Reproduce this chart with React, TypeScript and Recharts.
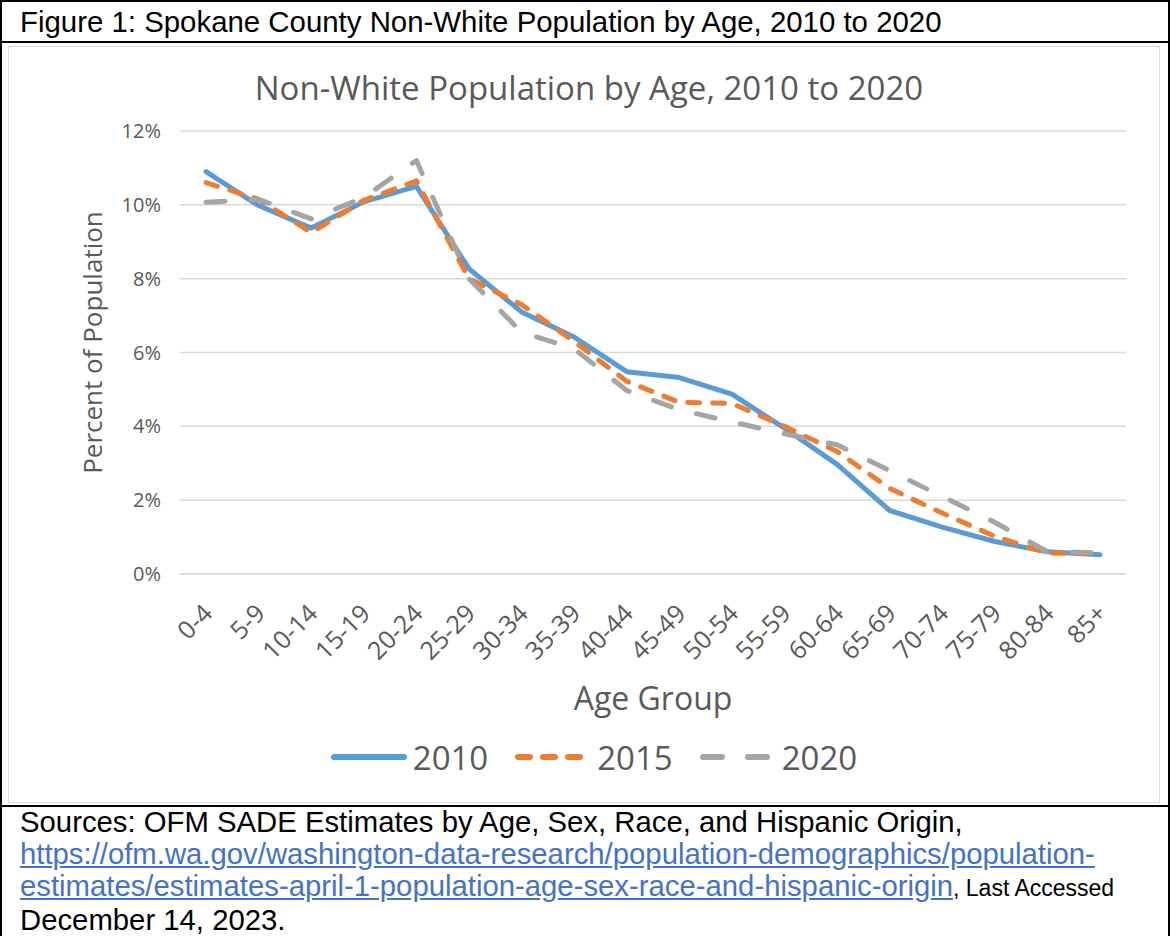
import React from "react";
import { LineChart, Line, XAxis, YAxis, CartesianGrid, Legend } from "recharts";

const ageGroups = ["0-4","5-9","10-14","15-19","20-24","25-29","30-34","35-39","40-44","45-49","50-54","55-59","60-64","65-69","70-74","75-79","80-84","85+"];
const pop2010 = [10.9, 9.98, 9.37, 10.08, 10.5, 8.27, 7.1, 6.42, 5.48, 5.32, 4.87, 3.95, 2.97, 1.72, 1.27, 0.88, 0.6, 0.52];
const pop2015 = [10.6, 10.15, 9.25, 10.12, 10.65, 8.0, 7.3, 6.3, 5.22, 4.65, 4.62, 4.0, 3.32, 2.32, 1.65, 1.02, 0.57, 0.55];
const pop2020 = [10.07, 10.15, 9.62, 10.2, 11.2, 8.0, 6.55, 6.1, 4.97, 4.45, 4.12, 3.8, 3.5, 2.8, 2.1, 1.4, 0.6, 0.58];
const yTicks = [0, 2, 4, 6, 8, 10, 12];
const seriesNames = ["2010", "2015", "2020"];

const data = ageGroups.map((age, i) => ({
  age,
  "2010": pop2010[i],
  "2015": pop2015[i],
  "2020": pop2020[i],
}));

const GRAY_TEXT = "#595959";
const CHART_FONT = "'Open Sans', 'Noto Sans', sans-serif";

const styles: Record<string, { color: string; dash?: string }> = {
  "2010": { color: "#5B9BD5" },
  "2015": { color: "#ED7D31", dash: "12 13" },
  "2020": { color: "#A5A5A5", dash: "19 26" },
};

const AgeTick = (props: any) => {
  const { x, y, payload } = props;
  const tx = x + 8;
  const ty = y + 33;
  return (
    <text
      x={tx}
      y={ty}
      transform={`rotate(-45, ${tx}, ${ty})`}
      textAnchor="end"
      fill={GRAY_TEXT}
      fontSize={25}
      fontFamily={CHART_FONT}
    >
      {payload.value}
    </text>
  );
};

const LegendContent = () => (
  <div
    style={{
      height: 44,
      display: "flex",
      justifyContent: "center",
      alignItems: "center",
      fontFamily: CHART_FONT,
      fontSize: 33,
      color: GRAY_TEXT,
    }}
  >
    {seriesNames.map((name, i) => (
      <div key={name} style={{ display: "flex", alignItems: "center", marginLeft: i === 0 ? 0 : 27 }}>
        <svg width={76} height={12} style={{ marginRight: 6 }}>
          <line
            x1={3}
            y1={6}
            x2={73}
            y2={6}
            stroke={styles[name].color}
            strokeWidth={6}
            strokeLinecap="round"
            strokeDasharray={styles[name].dash}
          />
        </svg>
        <span>{name}</span>
      </div>
    ))}
  </div>
);

export default function App() {
  return (
    <div style={{ position: "relative", width: 1170, height: 936, background: "#fff", overflow: "hidden" }}>
      <style>{`body{margin:0;}`}</style>
      {/* outer table borders */}
      <div style={{ position: "absolute", left: 0, top: 0, width: 1166, height: 940, borderLeft: "2px solid #000", borderRight: "2px solid #000", borderTop: "2px solid #000" }} />
      <div style={{ position: "absolute", left: 0, top: 41, width: 1170, height: 2, background: "#000" }} />
      <div style={{ position: "absolute", left: 0, top: 805, width: 1170, height: 2, background: "#000" }} />
      {/* caption */}
      <div style={{ position: "absolute", left: 20, top: 6, fontFamily: "'Liberation Sans', Arial, sans-serif", fontSize: 29.4, lineHeight: "32px", color: "#000", whiteSpace: "nowrap" }}>
        Figure 1: Spokane County Non-White Population by Age, 2010 to 2020
      </div>
      {/* chart area */}
      <div style={{ position: "absolute", left: 8, top: 46, width: 1150, height: 755, border: "1px solid #d9d9d9" }}>
        <div style={{ position: "absolute", left: 0, top: 21, width: 1150, lineHeight: "40px", textAlign: "center", fontFamily: CHART_FONT, fontSize: 33, color: GRAY_TEXT, paddingLeft: 5, whiteSpace: "nowrap" }}>
          Non-White Population by Age, 2010 to 2020
        </div>
        <LineChart width={1150} height={755} data={data} margin={{ top: 84, right: 33, left: 0, bottom: 23 }}>
          <CartesianGrid vertical={false} stroke="#d9d9d9" strokeWidth={1.5} />
          <XAxis
            dataKey="age"
            height={161}
            interval={0}
            padding={{ left: 26, right: 26 }}
            tickLine={false}
            axisLine={{ stroke: "#d9d9d9", strokeWidth: 1.5 }}
            tick={<AgeTick />}
            label={(p: any) => {
              const vb = p.viewBox;
              return (
                <text x={vb.x + vb.width / 2} y={vb.y + 123} textAnchor="middle" dominantBaseline="central" fill={GRAY_TEXT} fontSize={32} fontFamily={CHART_FONT}>
                  Age Group
                </text>
              );
            }}
          />
          <YAxis
            width={171}
            domain={[0, 12]}
            ticks={yTicks}
            tickFormatter={(v: number) => `${v}%`}
            tickLine={false}
            axisLine={false}
            tickMargin={13}
            tick={{ fill: GRAY_TEXT, fontSize: 20, fontFamily: CHART_FONT }}
            label={(p: any) => {
              const vb = p.viewBox;
              const cx = vb.x + 83;
              const cy = vb.y + vb.height / 2 - 10;
              return (
                <text x={cx} y={cy} transform={`rotate(-90, ${cx}, ${cy})`} textAnchor="middle" dominantBaseline="central" fill={GRAY_TEXT} fontSize={26} fontFamily={CHART_FONT}>
                  Percent of Population
                </text>
              );
            }}
          />
          <Legend verticalAlign="bottom" content={<LegendContent />} wrapperStyle={{ left: 10, width: 1150 }} />
          {seriesNames.map((name) => (
            <Line
              key={name}
              type="linear"
              dataKey={name}
              stroke={styles[name].color}
              strokeWidth={5}
              strokeDasharray={styles[name].dash}
              strokeLinecap="round"
              strokeLinejoin="round"
              dot={false}
              activeDot={false}
              isAnimationActive={false}
            />
          ))}
        </LineChart>
      </div>
      {/* sources */}
      <div style={{ position: "absolute", left: 20, top: 806, width: 1145, fontFamily: "'Liberation Sans', Arial, sans-serif", fontSize: 29.3, lineHeight: "32px", color: "#000", whiteSpace: "nowrap" }}>
        Sources: OFM SADE Estimates by Age, Sex, Race, and Hispanic Origin,
        <br />
        <span style={{ color: "#4472C4", textDecoration: "underline" }}>
          https://ofm.wa.gov/washington-data-research/population-demographics/population-
          <br />
          estimates/estimates-april-1-population-age-sex-race-and-hispanic-origin
        </span>
        <span style={{ fontSize: 23 }}>, Last Accessed</span>
        <br />
        December 14, 2023.
      </div>
    </div>
  );
}
